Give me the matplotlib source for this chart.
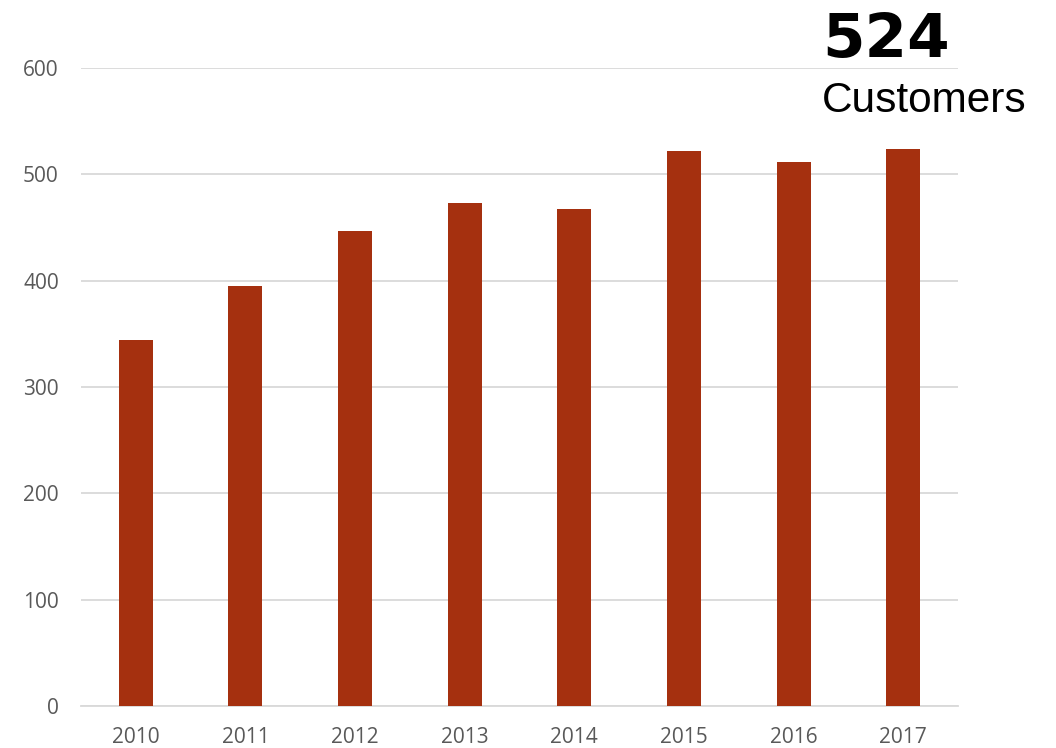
import matplotlib.pyplot as plt

years = ['2010', '2011', '2012', '2013', '2014', '2015', '2016', '2017']
customers = [344, 395, 447, 473, 467, 522, 512, 524]
y_ticks = [0, 100, 200, 300, 400, 500, 600]

fig = plt.figure(figsize=(10.56, 7.48), dpi=100)
ax = fig.add_axes([0.0767, 0.0561, 0.8305, 0.8529])

ax.bar(range(len(years)), customers, width=0.31, color='#A5300F', zorder=3)
ax.set_xlim(-0.5, len(years) - 0.5)
ax.set_ylim(0, 600)
ax.set_yticks(y_ticks)
ax.set_xticks(range(len(years)))
ax.set_xticklabels(years)
ax.grid(axis='y', color='#D9D9D9', linewidth=1.3, zorder=0)
for s in ['top', 'right', 'left']:
    ax.spines[s].set_visible(False)
ax.spines['bottom'].set_color('#D9D9D9')
ax.spines['bottom'].set_linewidth(1.3)
ax.tick_params(axis='both', length=0, labelsize=15, labelcolor='#595959')
ax.tick_params(axis='y', pad=16)
ax.tick_params(axis='x', pad=15)
for lbl in ax.get_xticklabels() + ax.get_yticklabels():
    lbl.set_family('Open Sans')

# big number in the top right corner
fig.text(822 / 1056, 1 - 57 / 748, '524', fontsize=44, fontweight='bold',
         family='DejaVu Sans', ha='left', va='baseline')
fig.text(822 / 1056, 1 - 112 / 748, 'Customers', fontsize=30.5,
         family='Liberation Sans', ha='left', va='baseline')

fig.savefig('out.png', dpi=100)
